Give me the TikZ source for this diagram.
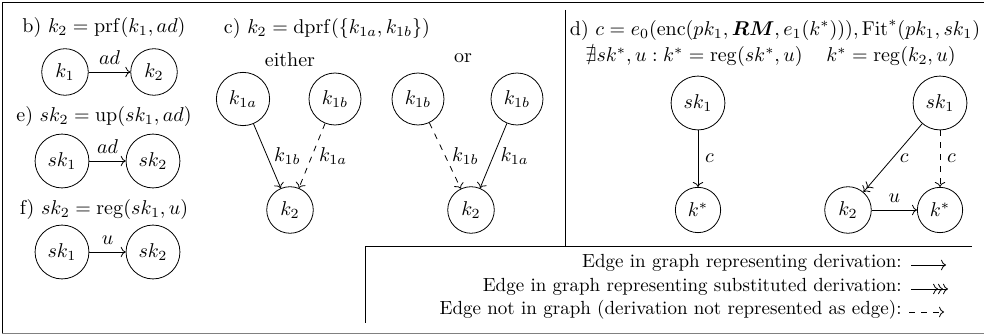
\documentclass[tikz,border=0pt]{standalone}
\usepackage{amsmath,amssymb}
\usetikzlibrary{arrows.meta}
\begin{document}
\begin{tikzpicture}[x=0.5pt,y=-0.5pt,
  vtx/.style={draw,circle,inner sep=3.7pt},
  ttl/.style={inner sep=0pt},
  der/.style={->},
  sub/.style={-{To[]To[]}},
  notin/.style={->,dashed},
  leg/.style={anchor=east,inner sep=0pt,font=\fontsize{9.5pt}{11.5pt}\selectfont}]
\useasboundingbox (0,0) rectangle (984,335);
% frame
\draw (984,2) -- (2,2) -- (2,333);
\draw[gray] (2,333) -- (984,333);
\draw (565,10) -- (565,246);
\draw (365,323) -- (365,246) -- (972,246);

% panel b
\node[ttl] (tb) at (104,28) {b) $k_2=\mathrm{prf}(k_1,ad)$};
\node[vtx] (b1) at (65,72) {$k_1$};
\node[vtx] (b2) at (154,72) {$k_2$};
\draw[der] (b1) -- node[above] {$ad$} (b2);

% panel e
\node[ttl] (te) at (104,117) {e) $sk_2=\mathrm{up}(sk_1,ad)$};
\node[vtx] (e1) at (62,161) {$sk_1$};
\node[vtx] (e2) at (153,161) {$sk_2$};
\draw[der] (e1) -- node[above] {$ad$} (e2);

% panel f
\node[ttl] (tf) at (104,210) {f) $sk_2=\mathrm{reg}(sk_1,u)$};
\node[vtx] (f1) at (62,252) {$sk_1$};
\node[vtx] (f2) at (153,252) {$sk_2$};
\draw[der] (f1) -- node[above] {$u$} (f2);

% panel c
\node[ttl] (tc) at (327,29) {c) $k_2=\mathrm{dprf}(\{k_{1a},k_{1b}\})$};
\node[ttl] (either) at (290,60) {either};
\node[ttl] (or) at (463,58) {or};
\node[vtx] (ca) at (243,99) {$k_{1a}$};
\node[vtx] (cb) at (335,99) {$k_{1b}$};
\node[vtx] (ck) at (290,210) {$k_2$};
\draw[der] (ca) -- node[right] {$k_{1b}$} (ck);
\draw[notin] (cb) -- node[right] {$k_{1a}$} (ck);
\node[vtx] (oa) at (418,99) {$k_{1b}$};
\node[vtx] (ob) at (517,99) {$k_{1b}$};
\node[vtx] (ok) at (471,210) {$k_2$};
\draw[notin] (oa) -- node[right] {$k_{1b}$} (ok);
\draw[der] (ob) -- node[right] {$k_{1a}$} (ok);

% panel d
\node[ttl] (td) at (775,30) {d) $c=e_0(\mathrm{enc}(pk_1,\boldsymbol{RM},e_1(k^*))),\mathrm{Fit}^*(pk_1,sk_1)$};
\node[ttl] (tdl) at (694,57) {$\nexists sk^*,u:k^*=\mathrm{reg}(sk^*,u)$};
\node[ttl] (tdr) at (891,57) {$k^*=\mathrm{reg}(k_2,u)$};
\node[vtx] (ds) at (698,103) {$sk_1$};
\node[vtx] (dk) at (698,210) {$k^*$};
\draw[der] (ds) -- node[right] {$c$} (dk);
\node[vtx] (rs) at (940,103) {$sk_1$};
\node[vtx] (rk2) at (848,210) {$k_2$};
\node[vtx] (rk) at (940,210) {$k^*$};
\draw[sub] (rs) -- node[right] {$c$} (rk2);
\draw[notin] (rs) -- node[right] {$c$} (rk);
\draw[der] (rk2) -- node[above] {$u$} (rk);

% legend
\node[leg] (l1) at (902,263) {Edge in graph representing derivation:};
\node[leg] (l2) at (902,287) {Edge in graph representing substituted derivation:};
\node[leg] (l3) at (902,310) {Edge not in graph (derivation not represented as edge):};
\coordinate (a1s) at (911,265); \coordinate (a1e) at (946,265);
\coordinate (a2s) at (911,289); \coordinate (a2e) at (948,289);
\coordinate (a3s) at (909,312); \coordinate (a3e) at (944,312);
\draw[der] (a1s) -- (a1e);
\draw[-{To[]To[]To[]}] (a2s) -- (a2e);
\draw[notin] (a3s) -- (a3e);
\end{tikzpicture}
\end{document}
